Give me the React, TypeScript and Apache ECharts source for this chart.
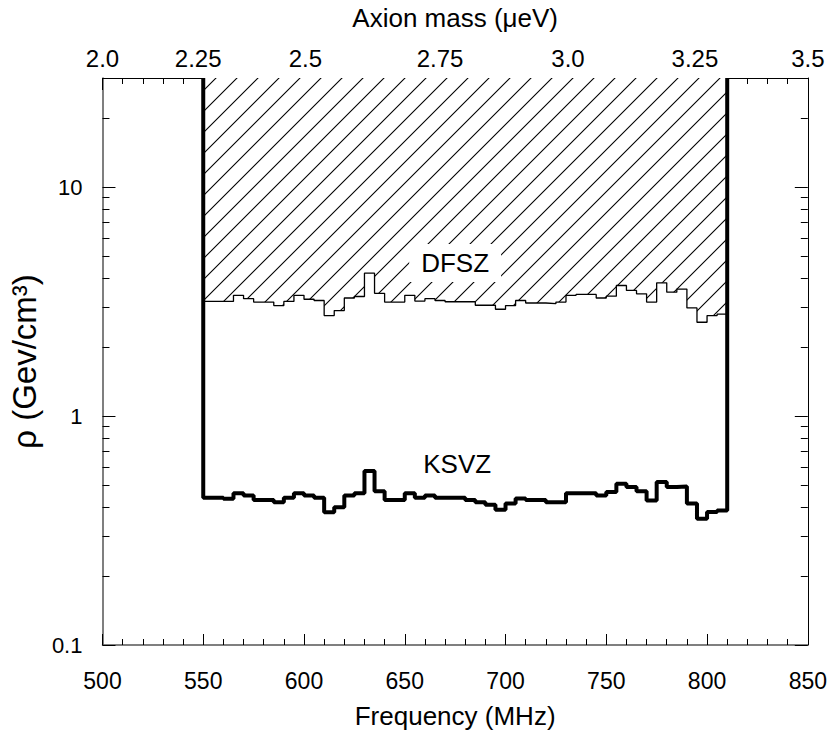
import React, { useEffect, useRef } from 'react';
import * as echarts from 'echarts';

// ---- data ----
const binStarts = [
  550, 555, 560, 565, 570, 575, 580, 585, 590, 595,
  600, 605, 610, 615, 620, 625, 630, 635, 640, 645,
  650, 655, 660, 665, 670, 675, 680, 685, 690, 695,
  700, 705, 710, 715, 720, 725, 730, 735, 740, 745,
  750, 755, 760, 765, 770, 775, 780, 785, 790, 795,
  800, 805,
];
const binEnd = 810;

const ksvz = [
  0.44, 0.44, 0.435, 0.46, 0.45, 0.43, 0.43, 0.42, 0.44, 0.46, 0.45, 0.44,
  0.38, 0.40, 0.45, 0.46, 0.575, 0.47, 0.43, 0.43, 0.46, 0.44, 0.45, 0.44,
  0.44, 0.44, 0.43, 0.42, 0.41, 0.39, 0.415, 0.436, 0.43, 0.43, 0.42, 0.42,
  0.46, 0.46, 0.46, 0.45, 0.466, 0.506, 0.49, 0.47, 0.428, 0.515, 0.49, 0.493,
  0.415, 0.356, 0.381, 0.387,
];

const dfsz = [
  3.17, 3.17, 3.17, 3.37, 3.26, 3.15, 3.15, 3.04, 3.17, 3.37, 3.24, 3.20,
  2.75, 2.89, 3.28, 3.33, 4.21, 3.44, 3.15, 3.15, 3.37, 3.18, 3.26, 3.20,
  3.16, 3.16, 3.16, 3.05, 3.05, 2.93, 3.04, 3.20, 3.12, 3.12, 3.10, 3.15,
  3.37, 3.40, 3.40, 3.28, 3.34, 3.72, 3.54, 3.42, 3.15, 3.82, 3.48, 3.59,
  2.97, 2.57, 2.75, 2.79,
];

const FREQ_MIN = 500;
const FREQ_MAX = 850;
const FREQ_INTERVAL = 50;
const RHO_MIN = 0.1;
const RHO_MAX = 30;

// top (mass) axis labels, placed at these frequencies as in the reference
const massLabelFreqs = [500, 547.5, 600.7, 667.5, 731, 794, 850];
const massLabels = ['2.0', '2.25', '2.5', '2.75', '3.0', '3.25', '3.5'];

const annotationNames = ['DFSZ', 'KSVZ'];
const annotationFreq = [675, 676];
const annotationRho = [4.67, 0.615];

const FONT = '"Liberation Sans", Arial, Helvetica, sans-serif';

function makeHatch(size: number): string {
  const c = document.createElement('canvas');
  c.width = size;
  c.height = size;
  const ctx = c.getContext('2d')!;
  ctx.fillStyle = '#fff';
  ctx.fillRect(0, 0, size, size);
  ctx.strokeStyle = '#000';
  ctx.lineWidth = 1.1;
  ctx.beginPath();
  ctx.moveTo(0, size);
  ctx.lineTo(size, 0);
  ctx.moveTo(-3, 3);
  ctx.lineTo(3, -3);
  ctx.moveTo(size - 3, size + 3);
  ctx.lineTo(size + 3, size - 3);
  ctx.stroke();
  return c.toDataURL();
}

export default function App() {
  const ref = useRef<HTMLDivElement>(null);

  useEffect(() => {
    document.body.style.margin = '0';
    const chart = echarts.init(ref.current!, null, { renderer: 'svg' });

    const HATCH = 21;
    const hatch = {
      image: makeHatch(HATCH),
      repeat: 'repeat',
      imageWidth: HATCH,
      imageHeight: HATCH,
    };

    const dfszData: number[][] = binStarts.map((f, i) => [f, dfsz[i]]);
    dfszData.push([binEnd, dfsz[dfsz.length - 1]]);

    const ksvzData: number[][] = [[binStarts[0], RHO_MAX]];
    binStarts.forEach((f, i) => ksvzData.push([f, ksvz[i]]));
    ksvzData.push([binEnd, ksvz[ksvz.length - 1]]);
    ksvzData.push([binEnd, RHO_MAX]);

    const baseX = {
      type: 'value',
      min: FREQ_MIN,
      max: FREQ_MAX,
      interval: FREQ_INTERVAL,
      splitLine: { show: false },
      minorSplitLine: { show: false },
    };
    const baseY = {
      type: 'log',
      logBase: 10,
      min: RHO_MIN,
      max: RHO_MAX,
      splitLine: { show: false },
      minorSplitLine: { show: false },
    };

    const option: any = {
      animation: false,
      backgroundColor: '#fff',
      textStyle: { fontFamily: FONT },
      grid: { left: 100, right: 18, top: 78, bottom: 89, containLabel: false },
      xAxis: [
        {
          ...baseX,
          position: 'bottom',
          axisLine: { show: true, onZero: false, lineStyle: { color: '#555', width: 1.5 } },
          axisTick: { show: true, inside: true, length: 11, lineStyle: { color: '#000', width: 1 } },
          minorTick: { show: true, splitNumber: 5, length: 6, lineStyle: { color: '#000', width: 1 } },
          axisLabel: { show: true, margin: 24, fontSize: 23, color: '#000', fontFamily: FONT },
          name: 'Frequency (MHz)',
          nameLocation: 'middle',
          nameGap: 58,
          nameTextStyle: { fontSize: 26, color: '#000', fontFamily: FONT },
        },
        {
          ...baseX,
          position: 'top',
          axisLine: { show: true, onZero: false, lineStyle: { color: '#000', width: 1 } },
          axisTick: { show: true, inside: true, length: 12, lineStyle: { color: '#000', width: 1 } },
          minorTick: { show: true, splitNumber: 5, length: 6, lineStyle: { color: '#000', width: 1 } },
          axisLabel: { show: false },
        },
        {
          type: 'value',
          min: FREQ_MIN,
          max: FREQ_MAX,
          position: 'top',
          splitLine: { show: false },
          axisLine: { show: false },
          axisTick: { show: false },
          axisLabel: {
            show: true,
            customValues: massLabelFreqs,
            formatter: (v: number) => {
              let best = 0;
              massLabelFreqs.forEach((f, i) => {
                if (Math.abs(f - v) < Math.abs(massLabelFreqs[best] - v)) best = i;
              });
              return massLabels[best];
            },
            margin: 8,
            fontSize: 24,
            color: '#000',
            fontFamily: FONT,
          },
          name: 'Axion mass (\u03bceV)',
          nameLocation: 'middle',
          nameGap: 47,
          nameTextStyle: { fontSize: 26, color: '#000', fontFamily: FONT },
        },
      ],
      yAxis: [
        {
          ...baseY,
          position: 'left',
          axisLine: { show: true, onZero: false, lineStyle: { color: '#555', width: 1.5 } },
          axisTick: { show: true, inside: true, length: 13, lineStyle: { color: '#000', width: 1 } },
          minorTick: { show: true, splitNumber: 9, length: 7, lineStyle: { color: '#000', width: 1 } },
          axisLabel: { show: true, margin: 20, fontSize: 22, color: '#000', fontFamily: FONT, showMaxLabel: false },
          name: '\u03c1 (Gev/cm\u00b3)',
          nameLocation: 'middle',
          nameRotate: 90,
          nameGap: 54,
          nameTextStyle: { fontSize: 33, color: '#000', fontFamily: FONT },
        },
        {
          ...baseY,
          position: 'right',
          axisLine: { show: true, onZero: false, lineStyle: { color: '#000', width: 1 } },
          axisTick: { show: true, inside: true, length: 13, lineStyle: { color: '#000', width: 1 } },
          minorTick: { show: true, splitNumber: 9, length: 7, lineStyle: { color: '#000', width: 1 } },
          axisLabel: { show: false },
        },
      ],
      series: [
        {
          type: 'line',
          name: 'DFSZ',
          xAxisIndex: 0,
          yAxisIndex: 0,
          data: dfszData,
          step: 'end',
          symbol: 'none',
          silent: true,
          lineStyle: { color: '#000', width: 1.3 },
          areaStyle: { origin: 'end', color: hatch, opacity: 1 },
          z: 2,
        },
        {
          type: 'line',
          name: 'KSVZ',
          xAxisIndex: 0,
          yAxisIndex: 0,
          data: ksvzData,
          step: 'end',
          symbol: 'none',
          silent: true,
          lineStyle: { color: '#000', width: 4 },
          z: 3,
        },
        {
          type: 'scatter',
          xAxisIndex: 0,
          yAxisIndex: 0,
          silent: true,
          symbolSize: 0,
          itemStyle: { color: '#000', opacity: 1 },
          z: 4,
          data: annotationNames.map((n, i) => ({
            name: n,
            value: [annotationFreq[i], annotationRho[i]],
            label: i === 0 ? { backgroundColor: '#fff', padding: [6, 12] } : {},
          })),
          label: {
            show: true,
            position: 'inside',
            formatter: '{b}',
            fontSize: 26,
            color: '#000',
            opacity: 1,
            textBorderWidth: 0,
            fontFamily: FONT,
          },
        },
      ],
    };

    chart.setOption(option);
    return () => chart.dispose();
  }, []);

  return (
    <div
      ref={ref}
      style={{ position: 'absolute', left: 0, top: 0, width: 830, height: 734, background: '#fff' }}
    />
  );
}
